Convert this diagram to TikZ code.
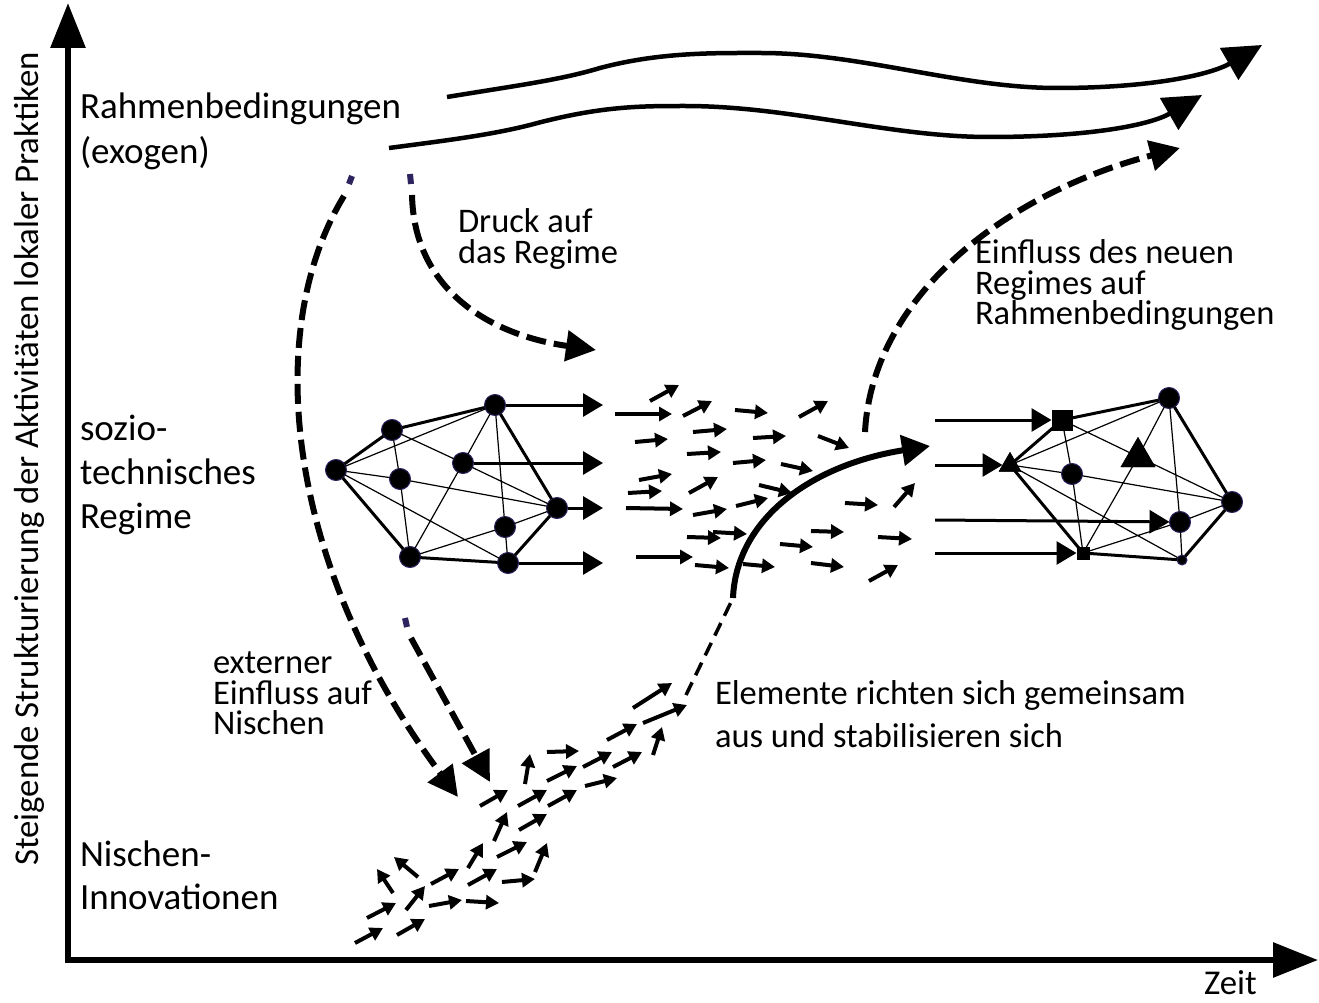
\documentclass[tikz,border=0pt]{standalone}
\usepackage{fontspec}
\setmainfont{Carlito}
\usetikzlibrary{arrows.meta,shapes.geometric}
\definecolor{navyc}{RGB}{45,35,95}
\begin{document}
\begin{tikzpicture}[x=1pt,y=-1pt,
  every node/.style={inner sep=0pt, outer sep=0pt},
  lbl/.style={font=\fontsize{37}{46}\selectfont, anchor=base west},
  ann/.style={font=\fontsize{34.5}{30}\selectfont, anchor=base west},
  axlbl/.style={font=\fontsize{34.8}{40}\selectfont},
  axisline/.style={line width=6pt, -{Triangle[length=45pt,width=34pt]}},
  wave/.style={line width=4.5pt, -{Triangle[length=38pt,width=36pt]}},
  dasharr/.style={line width=6pt, dash pattern=on 20pt off 8pt, -{Triangle[length=30pt,width=30pt]}},
  navydash/.style={line width=6pt, draw=navyc},
  thinarr/.style={line width=3.5pt, dash pattern=on 14pt off 8pt},
  sa/.style={line width=4pt, -{Triangle[length=13pt,width=14pt]}},
  bigcurve/.style={line width=6pt, -{Triangle[length=28pt,width=30pt]}},
  netarr/.style={line width=3pt, -{Triangle[length=20pt,width=23pt]}},
  thickedge/.style={line width=3pt},
  thinedge/.style={line width=1.2pt},
  dot/.style={circle, fill=black, draw=navyc, line width=1pt, minimum size=21pt},
  sdot/.style={circle, fill=black, draw=navyc, line width=1pt, minimum size=10pt},
  sq/.style={rectangle, fill=black, minimum size=21pt},
  ssq/.style={rectangle, fill=black, minimum size=13pt},
  tri/.style={regular polygon, regular polygon sides=3, fill=black, minimum size=26pt},
  btri/.style={regular polygon, regular polygon sides=3, fill=black, minimum size=40pt}
]
\useasboundingbox (0,0) rectangle (1319,1003);
% axes
\coordinate (O) at (68,960);
\coordinate (Ytop) at (68,3);
\coordinate (Xend) at (1318,960);
\draw[axisline] ([yshift=-3pt]O) -- (Ytop);
\draw[axisline] ([xshift=-3pt]O) -- (Xend);
\node[axlbl, rotate=90] (ylab) at (29,459) {Steigende Strukturierung der Aktivitäten lokaler Praktiken};
\node[axlbl, anchor=base west] (xlab) at (1204,994) {Zeit};

% left labels
\node[lbl] (l1) at (80,119) {Rahmenbedingungen};
\node[lbl] (l2) at (80,164) {(exogen)};
\node[lbl] (l3) at (80,440) {sozio-};
\node[lbl] (l4) at (80,484) {technisches};
\node[lbl] (l5) at (80,528) {Regime};
\node[lbl] (l6) at (80,866) {Nischen-};
\node[lbl] (l7) at (80,909) {Innovationen};

% annotations
\node[ann] (a1) at (458,232) {Druck auf};
\node[ann] (a2) at (458,263) {das Regime};
\node[ann] (a3) at (975,263) {Einfluss des neuen};
\node[ann] (a4) at (975,294) {Regimes auf};
\node[ann] (a5) at (975,324) {Rahmenbedingungen};
\node[ann] (a6) at (213,673) {externer};
\node[ann] (a7) at (213,704) {Einfluss auf};
\node[ann] (a8) at (213,734) {Nischen};
\node[ann] (a9) at (715,704) {Elemente richten sich gemeinsam};
\node[ann] (a10) at (715,747) {aus und stabilisieren sich};

% wavy arrows
\draw[wave] (447,97) .. controls (520,85) and (560,80) .. (600,68)
  .. controls (660,52) and (715,53) .. (761,53)
  .. controls (860,53) and (960,88) .. (1057,88)
  .. controls (1150,88) and (1210,75) .. (1262,45);
\draw[wave] (389,148) .. controls (450,140) and (490,135) .. (530,125)
  .. controls (600,106) and (640,106) .. (685,106)
  .. controls (790,106) and (890,137) .. (989,137)
  .. controls (1090,137) and (1150,125) .. (1202,95);

% dashed arrows
\draw[navydash] (352,176) -- (349,184);
\draw[dasharr] (344,196) .. controls (262,330) and (285,565) .. (458,797);
\draw[navydash] (405,618) -- (407,627);
\draw[dasharr] (411,638) -- (490,782);
\draw[navydash] (410,174) -- (411,184);
\draw[dasharr] (412,195) .. controls (414,290) and (490,335) .. (596,350);
\draw[dasharr] (865,432) .. controls (872,300) and (1000,195) .. (1180,148);

% left network
\node[dot] (A) at (336,470) {};
\node[dot] (B) at (392,430) {};
\node[dot] (C) at (495,405) {};
\node[dot] (D) at (463,463) {};
\node[dot] (E) at (400,479) {};
\node[dot] (F) at (557,508) {};
\node[dot] (G) at (505,527) {};
\node[dot] (H) at (410,557) {};
\node[dot] (I) at (508,563) {};
\path[thinedge,draw] (A) -- (C) (A) -- (E) (E) -- (F) (A) -- (I) (B) -- (D) (B) -- (E) (E) -- (H)
  (C) -- (D) (C) -- (G) (D) -- (H) (D) -- (F) (H) -- (G) (G) -- (I) (G) -- (F);
\path[thickedge,draw] (A) -- (B) (B) -- (C) (C) -- (F) (F) -- (I) (I) -- (H) (H) -- (A);
\coordinate (c1) at (603,405);
\coordinate (c2) at (603,463);
\coordinate (c3) at (603,508);
\coordinate (c4) at (603,563);
\draw[netarr] (C) -- (c1);
\draw[netarr] (D) -- (c2);
\draw[netarr] (F) -- (c3);
\draw[netarr] (I) -- (c4);

% field of small arrows
\foreach \a/\b/\c/\d in {650/401/679/385, 615/414/672/414, 683/416/712/401, 735/410/768/413,
  799/417/828/401, 635/442/668/439, 693/432/727/429, 753/438/786/436, 818/436/849/448,
  687/454/721/452, 733/463/766/460, 781/464/813/471, 639/480/672/474, 628/493/662/491,
  689/493/718/477, 759/485/792/493, 626/508/683/509, 693/515/727/509, 736/506/768/498,
  845/503/878/505, 894/507/915/483, 687/537/721/538, 713/532/747/534, 811/531/844/532,
  878/537/912/539, 780/544/813/547, 636/557/693/557, 695/565/729/568, 743/564/775/567,
  811/563/844/567, 869/581/898/565}
  \draw[sa] (\a,\b) -- (\c,\d);

% niche arrows
\foreach \a/\b/\c/\d in {355/943/383/928, 397/935/425/919, 367/918/396/903, 393/893/377/869,
  418/877/394/857, 406/910/425/886, 429/906/462/900, 466/901/499/903, 431/884/459/869,
  468/868/483/843, 468/885/497/869, 502/882/535/879, 535/872/547/843, 497/857/527/842,
  494/841/507/812, 519/830/547/814, 480/806/508/790, 518/806/547/790, 548/806/577/790,
  525/784/530/754, 547/752/579/751, 547/781/577/766, 585/786/617/778, 583/767/612/752,
  613/767/642/752, 653/755/662/727, 607/740/637/724, 643/723/687/705, 633/708/672/683}
  \draw[sa] (\a,\b) -- (\c,\d);

% link from niche to regime
\coordinate (k1) at (686,695);
\coordinate (k2) at (733,598);
\draw[thinarr] (k1) -- (k2);
\coordinate (k3) at (930,446);
\draw[bigcurve] (k2) .. controls (736,520) and (810,465) .. (k3);

% right network
\node[sq] (Ra) at (1062,420) {};
\node[tri] (Rb) at (1010,465) {};
\node[dot] (Rc) at (1072,474) {};
\node[btri] (Rd) at (1138,457) {};
\node[dot] (Re) at (1169,398) {};
\node[dot] (Rf) at (1232,502) {};
\node[dot] (Rg) at (1180,522) {};
\node[ssq] (Rh) at (1083,553) {};
\node[sdot] (Ri) at (1182,560) {};
\path[thinedge,draw] (Ra.center) -- (Rc) (Rc) -- (Rh.center) (Ra.center) -- (Rf) (Rb.center) -- (Re) (Rb.center) -- (Rc)
  (Rb.center) -- (Ri) (Rc) -- (Rf) (Re) -- (Rd.center) (Rd.center) -- (Rh.center) (Re) -- (Rg)
  (Rh.center) -- (Rg) (Rg) -- (Rf) (Rg) -- (Ri);
\path[thickedge,draw] (Ra.center) -- (Re) (Re) -- (Rf) (Rf) -- (Ri) (Ri) -- (Rh.center) (Rh.center) -- (Rb.center) (Rb.center) -- (Ra.center);
\node[sq] at (Ra) {};
\node[tri] at (Rb) {};
\node[btri] at (Rd) {};
\node[ssq] at (Rh) {};
\coordinate (r1) at (935,420);
\coordinate (r2) at (935,465);
\coordinate (r3) at (935,520);
\coordinate (r4) at (935,553);
\draw[netarr] (r1) -- (Ra);
\draw[netarr] (r2) -- (Rb);
\draw[netarr] (r3) -- (Rg);
\draw[netarr] (r4) -- (Rh);
\end{tikzpicture}
\end{document}
